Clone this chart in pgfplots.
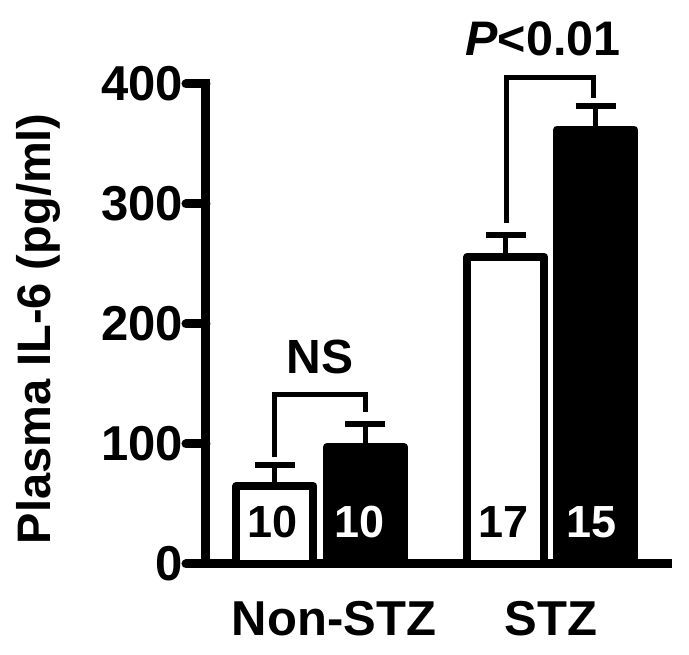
\documentclass[border=0pt]{standalone}
\usepackage{fontspec}
\setmainfont{Liberation Sans}
\usepackage{pgfplots}
\pgfplotsset{compat=1.18}
\begin{document}
\begin{tikzpicture}
\begin{axis}[
  scale only axis, width=462pt, height=480pt,
  xmin=206, xmax=668, ymin=0, ymax=400,
  clip=false,
  axis lines=left,
  axis line style={-, line width=9pt, line cap=rect, black},
  ytick={0,100,200,300,400},
  xtick={334,551},
  xticklabels={Non-STZ,STZ},
  xtick style={draw=none},
  ytick style={line width=9pt, black, line cap=round},
  major tick length=20pt,
  tick align=outside,
  /pgf/number format/assume math mode=true,
  yticklabel style={font=\fontsize{49}{52}\selectfont\bfseries, inner sep=3pt},
  xticklabel style={font=\fontsize{49}{52}\selectfont\bfseries, inner sep=3pt, yshift=-14pt},
  ylabel={Plasma IL-6 (pg/ml)},
  ylabel style={font=\fontsize{47}{50}\selectfont\bfseries, at={(axis description cs:-0.3636,0.49)}, anchor=center},
  ybar, bar shift=0pt, bar width=77,
]
\addplot[fill=white, draw=black, line width=8pt, line join=round,
  error bars/.cd, y dir=plus, y explicit,
  error bar style={line width=5pt, black},
  error mark options={rotate=90, mark size=20pt, line width=6pt, black}]
  coordinates {(275,65) +- (0,17.5) (506,256) +- (0,18)};
\addplot[fill=black, draw=black, line width=8pt, line join=round,
  error bars/.cd, y dir=plus, y explicit,
  error bar style={line width=5pt, black},
  error mark options={rotate=90, mark size=20pt, line width=6pt, black}]
  coordinates {(365.5,97.5) +- (0,19) (595.5,362) +- (0,20)};
\addplot[sharp plot, black, line width=5pt, line join=miter, mark=none]
  coordinates {(275,89) (275,141) (366,141) (366,127)};
\addplot[sharp plot, black, line width=5pt, line join=miter, mark=none]
  coordinates {(507,284) (507,405) (594,405) (594,388)};
\node[font=\fontsize{48}{50}\selectfont\bfseries] at (axis cs:320,172.5) {NS};
\node[font=\fontsize{48.5}{50}\selectfont\bfseries] at (axis cs:543,437.5) {\textit{P}<0.01};
\node[font=\fontsize{45}{48}\selectfont\bfseries, black] at (axis cs:273,35) {10};
\node[font=\fontsize{45}{48}\selectfont\bfseries, white] at (axis cs:360,35) {10};
\node[font=\fontsize{45}{48}\selectfont\bfseries, black] at (axis cs:504,35) {17};
\node[font=\fontsize{45}{48}\selectfont\bfseries, white] at (axis cs:592,35) {15};
\coordinate (bl) at (axis cs:0,-75.83);
\coordinate (tr) at (axis cs:689,470);
\end{axis}
\pgfresetboundingbox
\path (bl) rectangle (tr);
\end{tikzpicture}
\end{document}
